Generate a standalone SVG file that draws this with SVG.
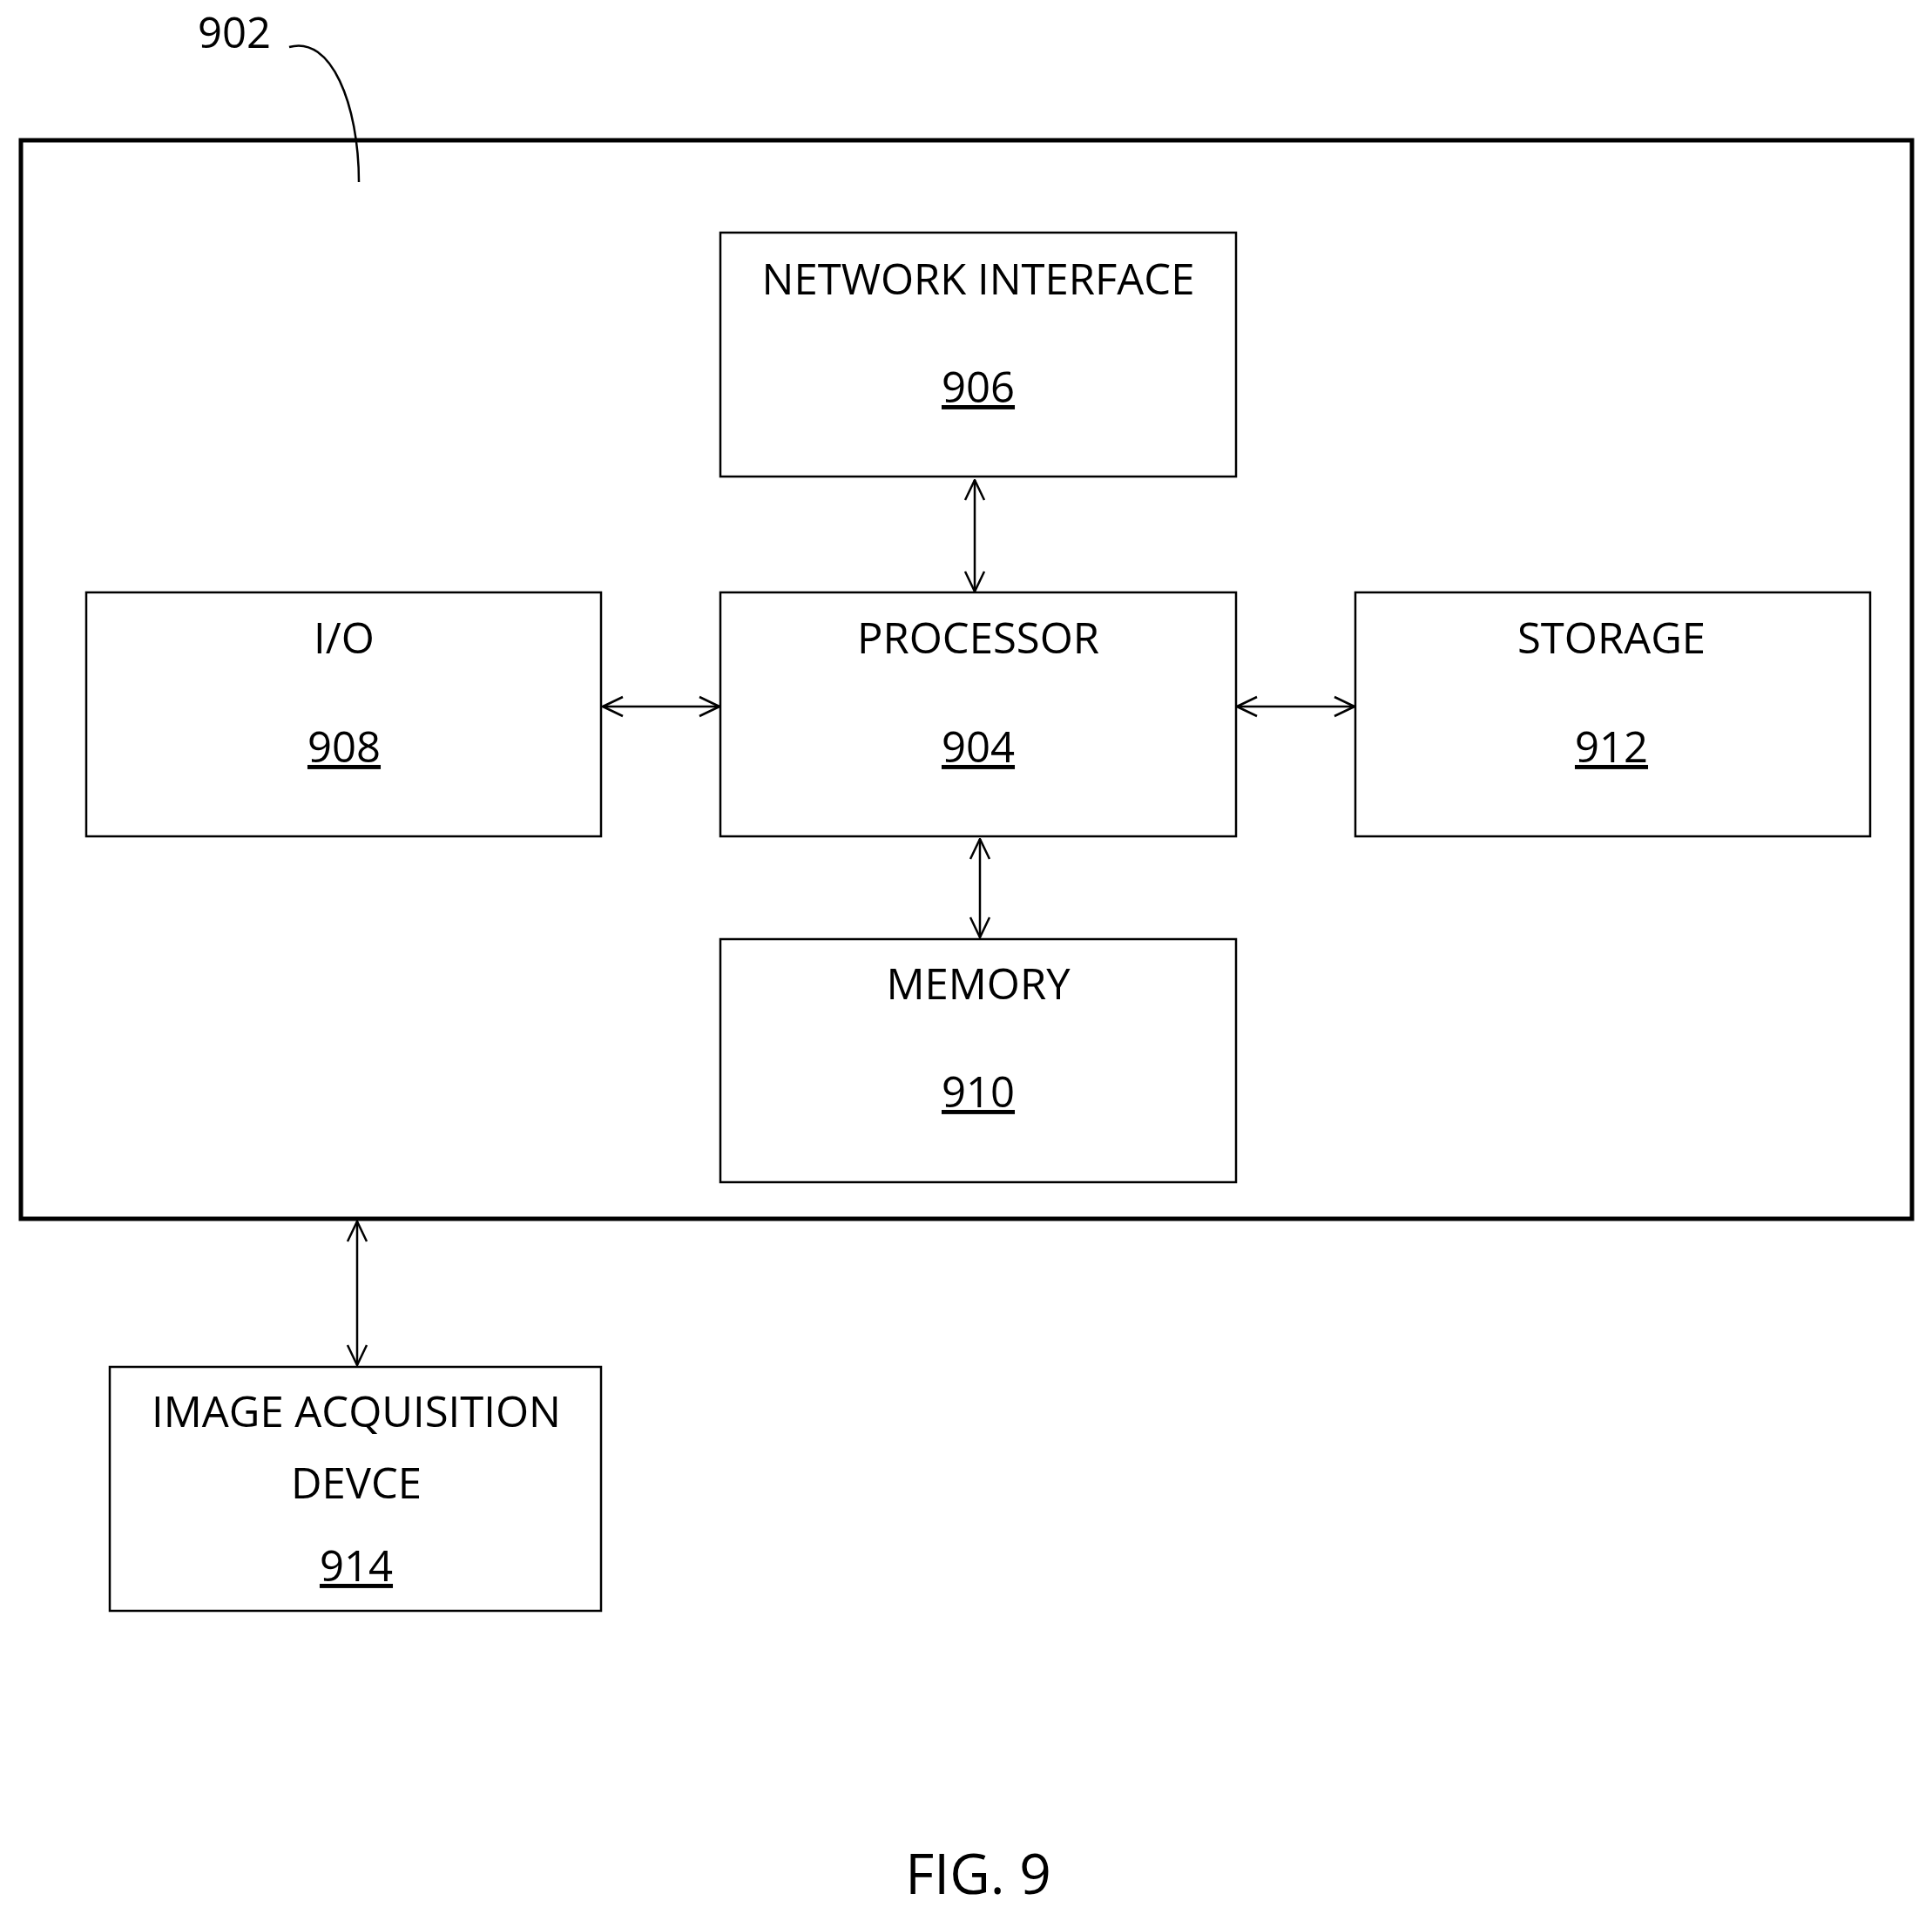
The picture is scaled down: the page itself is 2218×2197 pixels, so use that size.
<svg xmlns="http://www.w3.org/2000/svg" width="2218" height="2197" viewBox="0 0 2218 2197">
<style>
.b{fill:none;stroke:#000;stroke-width:2.5}
.t{font-family:"Open Sans","Liberation Sans",sans-serif;font-size:49px;text-anchor:middle;fill:#000}
.u{text-decoration:underline}
.c{fill:none;stroke:#000;stroke-width:2.5;marker-start:url(#a);marker-end:url(#a)}
</style>
<defs>
<marker id="a" viewBox="0 0 26 26" refX="25" refY="13" markerWidth="26" markerHeight="26" markerUnits="userSpaceOnUse" orient="auto-start-reverse">
<path d="M2,2 L25,13 L2,24" fill="none" stroke="#000" stroke-width="2.5"/>
</marker>
</defs>
<rect width="2218" height="2197" fill="#fff"/>
<g id="n902">
<rect x="24" y="161" width="2171" height="1238" fill="none" stroke="#000" stroke-width="5"/>
<text class="t" x="269" y="55">902</text>
<path d="M332,54 C380,40 412,120 412,209" class="b"/>
</g>
<g id="n906"><rect class="b" x="827" y="267" width="592" height="280"/><text class="t" x="1123" y="338">NETWORK INTERFACE</text><text class="t u" x="1123" y="462">906</text></g>
<g id="n908"><rect class="b" x="99" y="680" width="591" height="280"/><text class="t" x="395" y="750">I/O</text><text class="t u" x="395" y="875">908</text></g>
<g id="n904"><rect class="b" x="827" y="680" width="592" height="280"/><text class="t" x="1123" y="750">PROCESSOR</text><text class="t u" x="1123" y="875">904</text></g>
<g id="n912"><rect class="b" x="1556" y="680" width="591" height="280"/><text class="t" x="1850" y="750">STORAGE</text><text class="t u" x="1850" y="875">912</text></g>
<g id="n910"><rect class="b" x="827" y="1078" width="592" height="279"/><text class="t" x="1123" y="1147">MEMORY</text><text class="t u" x="1123" y="1271">910</text></g>
<g id="n914"><rect class="b" x="126" y="1569" width="564" height="280"/><text class="t" x="409" y="1638">IMAGE ACQUISITION</text><text class="t" x="409" y="1720">DEVCE</text><text class="t u" x="409" y="1815">914</text></g>
<g id="connectors">
<line class="c" x1="1119" y1="551" x2="1119" y2="679"/>
<line class="c" x1="692" y1="811" x2="826" y2="811"/>
<line class="c" x1="1420" y1="811" x2="1555" y2="811"/>
<line class="c" x1="1125" y1="963" x2="1125" y2="1076"/>
<line class="c" x1="410" y1="1402" x2="410" y2="1567"/>
</g>
<text class="t" x="1123" y="2174" style="font-size:64px">FIG. 9</text>
</svg>
